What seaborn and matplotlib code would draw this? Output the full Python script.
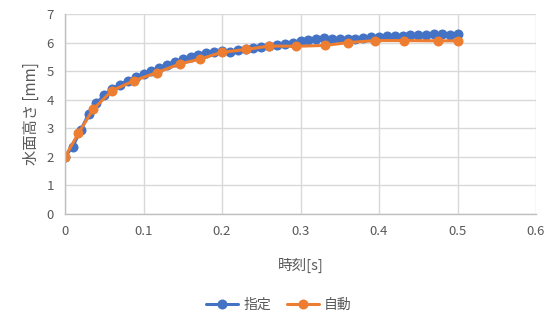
import numpy as np
import pandas as pd
import matplotlib
matplotlib.use("Agg")
import matplotlib.pyplot as plt
import seaborn as sns

# Data
t_blue = [round(0.01 * i, 2) for i in range(51)]
h_blue = [2.00, 2.36, 2.94, 3.49, 3.87, 4.17, 4.38, 4.52, 4.67, 4.80,
          4.90, 5.00, 5.12, 5.23, 5.33, 5.42, 5.50, 5.57, 5.63, 5.68,
          5.70, 5.68, 5.73, 5.78, 5.82, 5.86, 5.88, 5.91, 5.95, 6.00,
          6.05, 6.10, 6.12, 6.15, 6.13, 6.12, 6.12, 6.14, 6.16, 6.18,
          6.20, 6.22, 6.22, 6.24, 6.25, 6.25, 6.27, 6.30, 6.30, 6.28,
          6.30]
t_orange = [0.0, 0.017, 0.036, 0.060, 0.0885, 0.117, 0.146, 0.1715, 0.200,
            0.231, 0.2605, 0.2937, 0.331, 0.361, 0.395, 0.432, 0.4747, 0.5]
h_orange = [2.00, 2.82, 3.67, 4.32, 4.67, 4.95, 5.25, 5.42, 5.66,
            5.76, 5.88, 5.87, 5.90, 6.00, 6.07, 6.07, 6.06, 6.06]
series_names = ["指定", "自動"]
x_ticks = [0, 0.1, 0.2, 0.3, 0.4, 0.5, 0.6]
x_ticklabels = ["0", "0.1", "0.2", "0.3", "0.4", "0.5", "0.6"]
y_ticks = list(range(0, 8))
x_label = "時刻[s]"
y_label = "水面高さ [mm]"

df = pd.concat([
    pd.DataFrame({"t": t_blue, "h": h_blue, "s": series_names[0]}),
    pd.DataFrame({"t": t_orange, "h": h_orange, "s": series_names[1]}),
], ignore_index=True)

sns.set_theme(style="white")
plt.rcParams["font.family"] = ["Noto Sans CJK JP", "DejaVu Sans"]

grey = "#595959"
fig = plt.figure(figsize=(5.53, 3.24), dpi=100)
ax = fig.add_axes([65 / 553, 1 - 214 / 324, (536 - 65) / 553, (214 - 14) / 324])

palette = {series_names[0]: "#4472C4", series_names[1]: "#ED7D31"}
sns.lineplot(data=df, x="t", y="h", hue="s", palette=palette, marker="o",
             markersize=7.2, markeredgewidth=0, linewidth=2.2, sort=False,
             estimator=None, ax=ax, legend=True)

ax.set_xlim(0, 0.6)
ax.set_ylim(0, 7)
ax.set_xticks(x_ticks)
ax.set_xticklabels(x_ticklabels)
ax.set_yticks(y_ticks)
ax.grid(True, color="#d9d9d9", linewidth=1)
ax.set_axisbelow(True)
for side in ["top", "right"]:
    ax.spines[side].set_visible(False)
for side in ["left", "bottom"]:
    ax.spines[side].set_color("#bfbfbf")
    ax.spines[side].set_linewidth(1)
ax.tick_params(axis="both", colors=grey, labelsize=9.5, length=0, pad=8)
ax.set_xlabel(x_label, color=grey, fontsize=10.5, labelpad=14)
ax.set_ylabel(y_label, color=grey, fontsize=11, labelpad=5)

handles, labels = ax.get_legend_handles_labels()
ax.legend(handles, labels, loc="center", bbox_to_anchor=(279 / 553, 1 - 305 / 324),
          bbox_transform=fig.transFigure, ncol=2, frameon=False, fontsize=10,
          labelcolor=grey, handlelength=2.3, columnspacing=1.1, handletextpad=0.4)

fig.savefig("out.png", dpi=100, facecolor="white")
